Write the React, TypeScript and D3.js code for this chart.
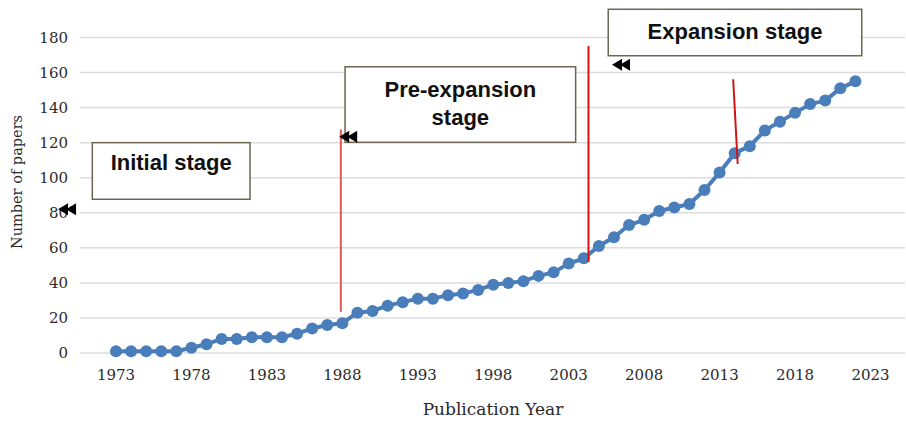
import React from "react";
import * as d3 from "d3";

const years: number[] = d3.range(1973, 2023);
const papers: number[] = [
  1, 1, 1, 1, 1, 3, 5, 8, 8, 9,
  9, 9, 11, 14, 16, 17, 23, 24, 27, 29,
  31, 31, 33, 34, 36, 39, 40, 41, 44, 46,
  51, 54, 61, 66, 73, 76, 81, 83, 85, 93,
  103, 114, 118, 127, 132, 137, 142, 144, 151, 155,
];
const xTicks: number[] = [1973, 1978, 1983, 1988, 1993, 1998, 2003, 2008, 2013, 2018, 2023];
const yTicks: number[] = [0, 20, 40, 60, 80, 100, 120, 140, 160, 180];

const stageLabels: string[][] = [["Initial stage"], ["Pre-expansion", "stage"], ["Expansion stage"]];
// stage boxes in data coordinates: [x0, x1, yTop, yBottom]
const stageBoxes: number[][] = [
  [1971.43, 1981.88, 120.0, 87.7],
  [1988.18, 2003.46, 163.3, 120.2],
  [2005.62, 2022.42, 196.1, 169.6],
];
const stageTextShift: number[] = [-8.5, -1.5, -1];
// red divider lines: [xa, ya, xb, yb]
const dividers: number[][] = [
  [1987.9, 127.5, 1987.9, 23.5],
  [2004.31, 175.1, 2004.31, 51.9],
  [2013.9, 156.2, 2014.2, 107.8],
];
const dividerColors: string[] = ["#e05a5a", "#e01010", "#d01515"];
// double arrowheads tip positions
const arrowTips: number[][] = [
  [1969.16, 82.0],
  [1987.79, 123.4],
  [2005.87, 164.5],
];

export default function App() {
  const W = 906;
  const H = 421;
  const x = d3.scaleLinear().domain([1973, 2023]).range([116, 870.5]);
  const y = d3.scaleLinear().domain([0, 180]).range([353, 37.5]);
  const line = d3
    .line<number>()
    .x((_, i) => x(years[i]))
    .y((d) => y(d));

  const serif = "'DejaVu Serif', serif";
  const sans = "'Liberation Sans', Arial, sans-serif";

  const arrowPath = (tx: number, ty: number) => {
    const w = 10;
    const h = 6;
    const tri = (ox: number) => `M${ox},${ty} L${ox + w},${ty - h} L${ox + w},${ty + h} Z`;
    return tri(tx) + " " + tri(tx + 8);
  };

  return (
    <svg
      width={W}
      height={H}
      style={{ position: "absolute", left: 0, top: 0, background: "#fff" }}
    >
      <rect x={0} y={0} width={W} height={H} fill="#fff" />
      {yTicks.map((t) => (
        <g key={t}>
          <line x1={80} x2={905} y1={y(t)} y2={y(t)} stroke="#dcdcdc" strokeWidth={1.5} />
          <text
            x={68}
            y={y(t)}
            dy="0.36em"
            textAnchor="end"
            fontFamily={serif}
            fontSize={15}
            fill="#2a2a2a"
          >
            {t}
          </text>
        </g>
      ))}
      {xTicks.map((t) => (
        <text
          key={t}
          x={x(t)}
          y={375}
          dy="0.36em"
          textAnchor="middle"
          fontFamily={serif}
          fontSize={15}
          fill="#2a2a2a"
        >
          {t}
        </text>
      ))}
      <text
        x={493}
        y={409}
        dy="0.36em"
        textAnchor="middle"
        fontFamily={serif}
        fontSize={17}
        fill="#2a2a2a"
      >
        Publication Year
      </text>
      <text
        transform={`translate(17,182) rotate(-90)`}
        dy="0.36em"
        textAnchor="middle"
        fontFamily={serif}
        fontSize={14.5}
        fill="#2a2a2a"
      >
        Number of papers
      </text>

      <path d={line(papers) || ""} fill="none" stroke="#4a7ebb" strokeWidth={4} strokeLinejoin="round" />
      {papers.map((v, i) => (
        <circle key={i} cx={x(years[i])} cy={y(v)} r={6} fill="#4a7ebb" />
      ))}

      {dividers.map((d, i) => (
        <line
          key={i}
          x1={x(d[0])}
          y1={y(d[1])}
          x2={x(d[2])}
          y2={y(d[3])}
          stroke={dividerColors[i]}
          strokeWidth={2}
        />
      ))}

      {stageBoxes.map((b, i) => {
        const x0 = x(b[0]);
        const x1 = x(b[1]);
        const y0 = y(b[2]);
        const y1 = y(b[3]);
        const cx = (x0 + x1) / 2;
        const cy = (y0 + y1) / 2 + stageTextShift[i];
        const lines = stageLabels[i];
        const lh = 28.5;
        return (
          <g key={i}>
            <rect
              x={x0}
              y={y0}
              width={x1 - x0}
              height={y1 - y0}
              fill="#fff"
              stroke="#6b6650"
              strokeWidth={1.5}
            />
            {lines.map((s, j) => (
              <text
                key={j}
                x={cx}
                y={cy + (j - (lines.length - 1) / 2) * lh}
                dy="0.36em"
                textAnchor="middle"
                fontFamily={sans}
                fontWeight="bold"
                fontSize={22}
                fill="#111"
              >
                {s}
              </text>
            ))}
          </g>
        );
      })}

      {arrowTips.map((a, i) => (
        <path key={i} d={arrowPath(x(a[0]), y(a[1]))} fill="#000" />
      ))}
    </svg>
  );
}
